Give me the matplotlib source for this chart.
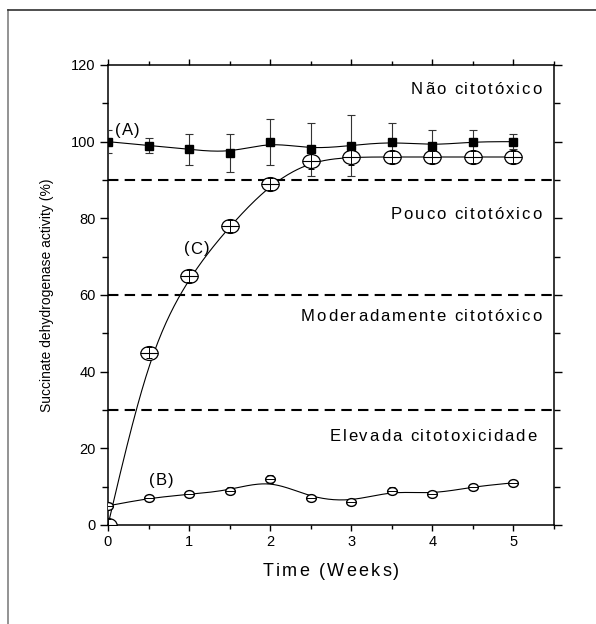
import numpy as np
import matplotlib
matplotlib.use("Agg")
import matplotlib.pyplot as plt
from matplotlib.path import Path
from matplotlib.lines import Line2D
from matplotlib.ticker import MultipleLocator
from matplotlib.transforms import offset_copy
from matplotlib.font_manager import FontProperties, findfont
from matplotlib.ft2font import FT2Font

FAMILY = ["Liberation Sans", "DejaVu Sans"]
plt.rcParams["font.family"] = FAMILY

# ---------- Data ----------
weeks = [0, 0.5, 1, 1.5, 2, 2.5, 3, 3.5, 4, 4.5, 5]

a_vals = [100, 99, 98, 97, 100, 98, 99, 100, 99, 100, 100]
a_err = [3, 2, 4, 5, 6, 7, 8, 5, 4, 3, 2]

b_vals = [5, 7, 8, 9, 12, 7, 6, 9, 8, 10, 11]
b_err = [0.8, 0.8, 0.8, 0.8, 1, 0.8, 0.8, 0.8, 0.8, 0.8, 0.8]

c_vals = [0, 45, 65, 78, 89, 95, 96, 96, 96, 96, 96]
c_err = [1.5, 1.5, 1.5, 1.5, 1.5, 2, 2, 1.5, 1.5, 1.5, 1.5]

thresholds = [90, 60, 30]
zone_labels = ["Não citotóxico", "Pouco citotóxico",
               "Moderadamente citotóxico", "Elevada citotoxicidade"]
zone_label_y = [113.7, 81, 54.3, 23.2]
zone_label_x = [5.34, 5.34, 5.34, 5.28]


def bspline(x, y, n=30):
    """Uniform cubic B-spline (Origin-style smooth connector) using the
    data as control points; phantom end points make it pass through ends."""
    x = np.asarray(x, float)
    y = np.asarray(y, float)
    px = np.concatenate([[2 * x[0] - x[1]], x, [2 * x[-1] - x[-2]]])
    py = np.concatenate([[2 * y[0] - y[1]], y, [2 * y[-1] - y[-2]]])
    t = np.linspace(0, 1, n, endpoint=False)
    b0 = (1 - t) ** 3 / 6
    b1 = (3 * t ** 3 - 6 * t ** 2 + 4) / 6
    b2 = (-3 * t ** 3 + 3 * t ** 2 + 3 * t + 1) / 6
    b3 = t ** 3 / 6
    xs, ys = [], []
    for i in range(len(px) - 3):
        xs.append(b0 * px[i] + b1 * px[i + 1] + b2 * px[i + 2] + b3 * px[i + 3])
        ys.append(b0 * py[i] + b1 * py[i + 1] + b2 * py[i + 2] + b3 * py[i + 3])
    xs.append([x[-1]])
    ys.append([y[-1]])
    return np.concatenate(xs), np.concatenate(ys)


def spaced_text(ax, x, y, s, size, spacing, ha="left", va="center", transform=None):
    """Text with extra letter spacing (points), like the Origin export."""
    if transform is None:
        transform = ax.transData
    font = FT2Font(findfont(FontProperties(family=FAMILY[0])))
    font.set_size(size, 72)
    adv = []
    for c in s:
        g = font.load_char(ord(c))
        adv.append(g.linearHoriAdvance / 65536)
    total = sum(adv) + spacing * (len(s) - 1)
    start = {"left": 0, "center": -total / 2, "right": -total}[ha]
    pos = start
    for c, a in zip(s, adv):
        if c != " ":
            tr = offset_copy(transform, fig=ax.figure, x=pos, y=0, units="points")
            ax.text(x, y, c, transform=tr, ha="left", va=va, fontsize=size,
                    clip_on=False)
        pos += a + spacing


# ellipse marker (wider than tall), as in the original export
circ = Path.unit_circle()
ellipse = Path(circ.vertices * np.array([1.0, 0.8]), circ.codes)

fig = plt.figure(figsize=(5.96, 6.24), dpi=100)
ax = fig.add_axes([108 / 596, 1 - 525 / 624, 446 / 596, 460 / 624])

# outer frame (left and top only visible)
fig.add_artist(Line2D([8 / 596, 8 / 596], [0, 1 - 10 / 624], transform=fig.transFigure,
                      color="#808080", lw=1.2))
fig.add_artist(Line2D([8 / 596, 1], [1 - 10 / 624, 1 - 10 / 624], transform=fig.transFigure,
                      color="#303030", lw=1.2))

# threshold lines
for th in thresholds:
    ax.axhline(th, color="black", lw=1.5, dashes=(5, 3), zorder=1)

# series A
xa, ya = bspline(weeks, a_vals)
ax.plot(xa, ya, color="black", lw=0.8, zorder=2)
ax.errorbar(weeks, a_vals, yerr=a_err, fmt="s", color="black", ms=6,
            ecolor="#333333", elinewidth=0.8, capsize=3, capthick=0.8, zorder=3)

# series B
xb, yb = bspline(weeks, b_vals)
ax.plot(xb, yb, color="black", lw=0.8, zorder=2)
ax.errorbar(weeks, b_vals, yerr=b_err, fmt="none", ecolor="black",
            elinewidth=0.7, capsize=2, capthick=0.7, zorder=4)
ax.plot(weeks, b_vals, ls="none", marker=ellipse, ms=7, mfc="white", mec="black",
        mew=1.0, zorder=4)
ax.plot(weeks, b_vals, ls="none", marker="_", ms=7, mec="black", mew=0.7, zorder=5)

# series C
xc, yc = bspline(weeks, c_vals)
ax.plot(xc, yc, color="black", lw=0.8, zorder=2)
ax.plot(weeks, c_vals, ls="none", marker=ellipse, ms=12.5, mfc="white", mec="black",
        mew=0.9, zorder=5)
ax.plot(weeks, c_vals, ls="none", marker="_", ms=12.5, mec="black", mew=0.8, zorder=6)
ax.errorbar(weeks, c_vals, yerr=c_err, fmt="none", ecolor="black",
            elinewidth=0.7, capsize=2, capthick=0.7, zorder=6)

# zone labels
for lab, xx, yy in zip(zone_labels, zone_label_x, zone_label_y):
    spaced_text(ax, xx, yy, lab, 12, 1.4, ha="right")

# series labels
spaced_text(ax, 0.24, 103, "(A)", 12, 0.8, ha="center")
spaced_text(ax, 0.66, 11.5, "(B)", 12, 0.8, ha="center")
spaced_text(ax, 1.09, 72, "(C)", 12, 0.8, ha="center")

ax.set_xlim(0, 5.5)
ax.set_ylim(0, 120)
ax.xaxis.set_major_locator(MultipleLocator(1))
ax.xaxis.set_minor_locator(MultipleLocator(0.5))
ax.yaxis.set_major_locator(MultipleLocator(20))
ax.yaxis.set_minor_locator(MultipleLocator(10))
ax.tick_params(which="both", direction="out", top=True, right=True,
               labeltop=False, labelright=False, width=1, labelsize=10.5)
ax.tick_params(axis="y", which="major", length=6, pad=3)
ax.tick_params(axis="y", which="minor", length=4)
ax.tick_params(axis="x", which="major", length=4.5, pad=3)
ax.tick_params(axis="x", which="minor", length=3)
for s in ax.spines.values():
    s.set_linewidth(1.1)

# x label drawn with letter spacing, y label plain
spaced_text(ax, 0.5, -46 / 460, "Time (Weeks)", 13, 1.6, ha="center",
            transform=ax.transAxes)
ax.set_ylabel("Succinate dehydrogenase activity (%)", fontsize=10, labelpad=12)

fig.savefig("out.png", dpi=100)
